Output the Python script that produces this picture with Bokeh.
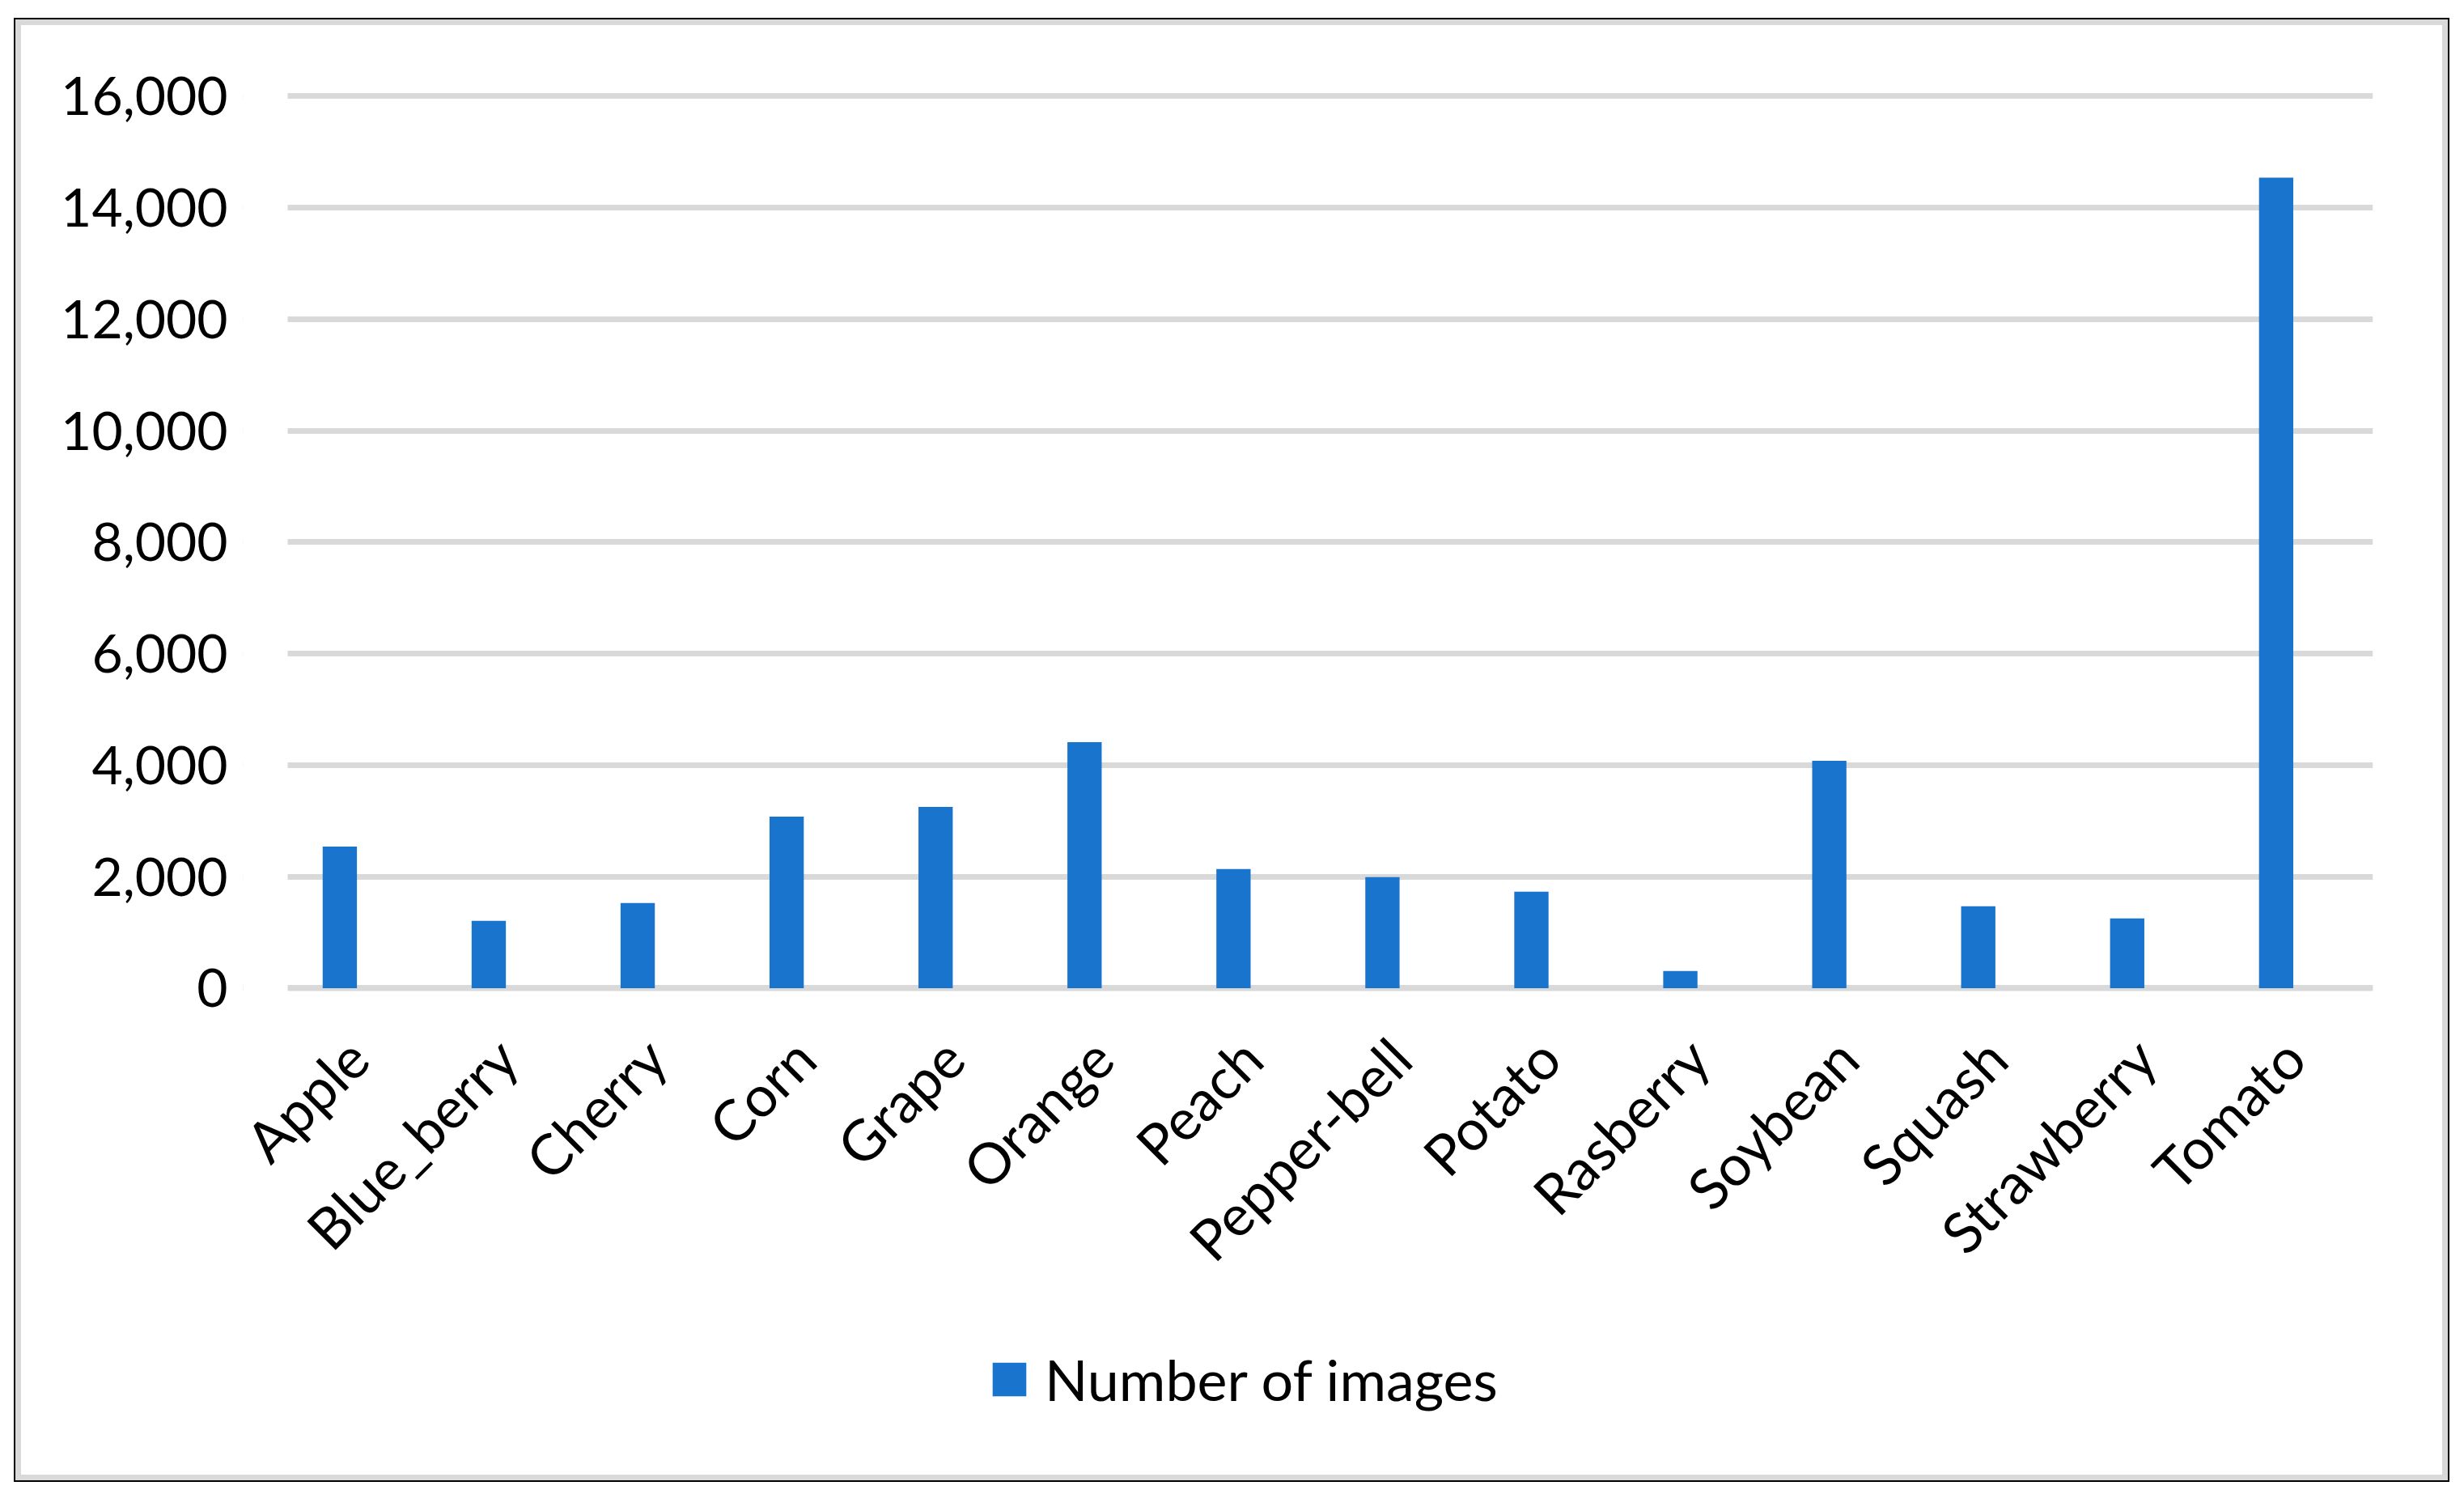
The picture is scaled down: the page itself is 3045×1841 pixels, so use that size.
from bokeh.plotting import figure
from bokeh.models import (Range1d, FixedTicker, NumeralTickFormatter, LinearAxis,
                          Span, Legend, LegendItem, ColumnDataSource, BoxAnnotation)
from bokeh.embed import file_html
from bokeh.resources import INLINE

categories = ["Apple", "Blue_berry", "Cherry", "Corn", "Grape", "Orange", "Peach",
              "Pepper-bell", "Potato", "Rasberry", "Soybean", "Squash", "Strawberry", "Tomato"]
num_images = [2541, 1208, 1527, 3077, 3251, 4411, 2135, 1990, 1729, 309, 4077, 1469, 1251, 14537]
y_ticks = [0, 2000, 4000, 6000, 8000, 10000, 12000, 14000, 16000]
series_name = "Number of images"

FONT = "Lato"
BAR = "#1874CD"
GRID = "#d9d9d9"

n = len(categories)
bar_x = [i + 0.35 for i in range(n)]        # first series of a two-slot cluster (Excel style)
tick_x = [i + 0.5 for i in range(n)]        # category centres
src = ColumnDataSource(dict(cat=categories, x=bar_x, top=num_images))

X0 = -0.2988   # room on the left of the plot area for the first rotated label
W, H = 3010, 1809
p = figure(width=W, height=H, x_range=Range1d(X0, n), y_range=Range1d(-8414, 16150),
           x_axis_location=None,
           output_backend="svg", toolbar_location=None,
           min_border_left=283, min_border_right=95, min_border_top=86, min_border_bottom=31)
p.background_fill_color = "white"
p.border_fill_color = None
p.outline_line_color = None
p.styles = {"margin-left": "17px", "margin-top": "22px",
            "outline": "2px solid black", "outline-offset": "-2px",
            "box-shadow": "inset 0 0 0 9px #d9d9d9"}

# y axis
ya = p.yaxis[0]
ya.ticker = FixedTicker(ticks=y_ticks)
ya.formatter = NumeralTickFormatter(format="0,0")
ya.axis_line_color = None
ya.major_tick_line_color = None
ya.minor_tick_line_color = None
ya.major_tick_out = 0
ya.minor_tick_out = 0
ya.major_label_standoff = 19
ya.major_label_text_font = FONT
ya.major_label_text_font_size = "66px"
ya.major_label_text_color = "black"

p.ygrid.ticker = FixedTicker(ticks=y_ticks)
p.ygrid.grid_line_color = GRID
p.ygrid.grid_line_width = 7
p.xgrid.grid_line_color = None
p.xgrid.visible = False

# baseline
p.add_layout(Span(location=0, dimension="width", line_color=GRID, line_width=7, level="underlay"))
# blank the strip left of the category area (gridlines start at the first category)
p.add_layout(BoxAnnotation(left=X0, right=0, fill_color="white", fill_alpha=1,
                           line_color=None, level="underlay"))

bars = p.vbar(x="x", top="top", width=0.23, source=src, color=BAR, line_color=None)

# category label axis (Excel-style rotated labels), pinned at y = 0
d = -0.03
p.extra_x_ranges = {"lab": Range1d(X0 - d, n - d)}
lab_axis = LinearAxis(x_range_name="lab", ticker=FixedTicker(ticks=tick_x),
                      major_label_overrides={t: c for t, c in zip(tick_x, categories)},
                      fixed_location=0)
lab_axis.axis_line_color = None
lab_axis.major_tick_line_color = None
lab_axis.minor_tick_line_color = None
lab_axis.major_tick_out = 0
lab_axis.minor_tick_out = 0
lab_axis.major_label_orientation = 0.785398
lab_axis.major_label_standoff = 74
lab_axis.major_label_text_font = FONT
lab_axis.major_label_text_font_size = "70px"
lab_axis.major_label_text_color = "black"
p.add_layout(lab_axis, "below")

legend = Legend(items=[LegendItem(label=series_name, renderers=[bars])],
                location=(921, 54), orientation="horizontal",
                glyph_width=52, glyph_height=52, label_standoff=18,
                padding=0, margin=0, border_line_color=None, background_fill_alpha=0,
                label_text_font=FONT, label_text_font_size="70px", label_text_color="black")
p.add_layout(legend, "center")

open("out.html", "w").write(file_html(p, INLINE))
